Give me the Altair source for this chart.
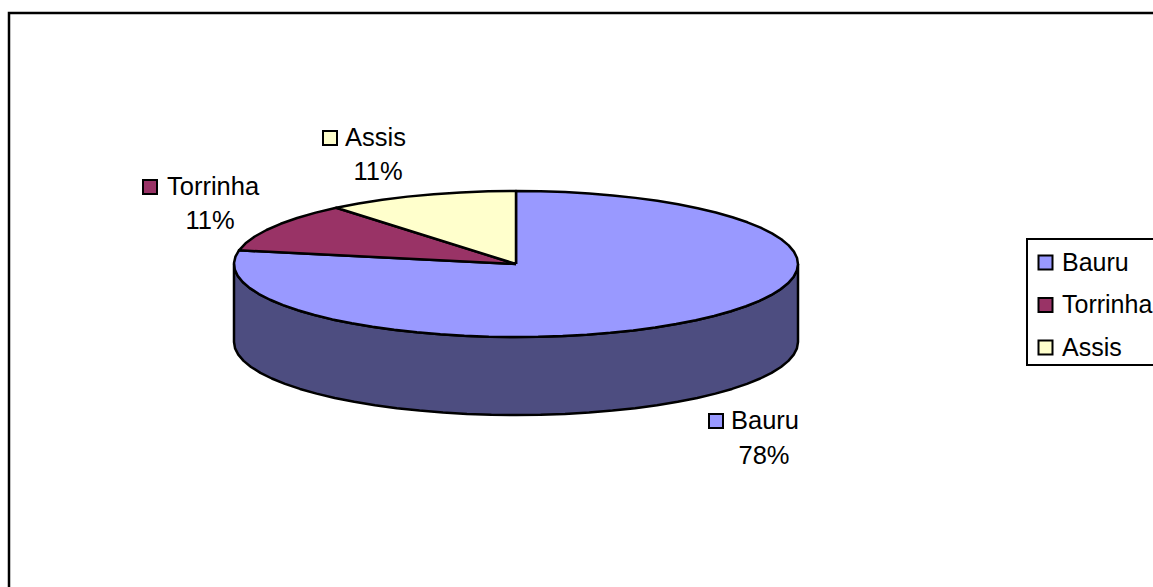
import math

import altair as alt
import pandas as pd

# Shares of each municipality, in percent
cities = ["Bauru", "Torrinha", "Assis"]
shares = [78, 11, 11]
colors = ["#9999FF", "#993366", "#FFFFCC"]

# Key square and label anchors for each slice
key_x = [716, 150, 330]
key_y = [421, 187, 138]
name_x = [731, 167, 345]
pct_x = [764, 210, 378]
pct_y = [456, 221, 172]

# Tilted pie geometry
W, H = 1153, 587
CX, CY, RX, RY, DEPTH = 516, 264, 282, 73, 78
STEP = 5
WALL = "#4D4D80"
FONT = "Liberation Sans"
FONT_SIZE = 25.5


def rim(deg):
    a = math.radians(deg)
    return CX + RX * math.sin(a), CY - RY * math.cos(a)


def sweep(start, end):
    n = max(2, int(abs(end - start) / STEP) + 1)
    return [start + (end - start) * i / (n - 1) for i in range(n)]


# Slice outlines: centre, arc around the rim, back to the centre
slice_rows = []
start = 0.0
for city, share in zip(cities, shares):
    end = start + share * 3.6
    pts = [(CX, CY)] + [rim(d) for d in sweep(start, end)] + [(CX, CY)]
    for i, (x, y) in enumerate(pts):
        slice_rows.append({"city": city, "i": i, "x": x, "y": y})
    start = end

# Visible wall: front half of the rim, dropped by the depth on the way back
front = [rim(d) for d in sweep(90, 270)]
wall_pts = front + [(x, y + DEPTH) for x, y in reversed(front)] + front[:1]
wall_rows = [{"i": i, "x": x, "y": y} for i, (x, y) in enumerate(wall_pts)]

labels = pd.DataFrame(
    {
        "city": cities,
        "pct": [f"{s}%" for s in shares],
        "key_x": key_x,
        "key_y": key_y,
        "name_x": name_x,
        "pct_x": pct_x,
        "pct_y": pct_y,
    }
)

x_scale = alt.Scale(domain=[0, W], range=[0, W])
y_scale = alt.Scale(domain=[0, H], range=[0, H])
fill_scale = alt.Scale(domain=cities, range=colors)
X = lambda f: alt.X(f, type="quantitative", scale=x_scale, axis=None)
Y = lambda f: alt.Y(f, type="quantitative", scale=y_scale, axis=None)

city_legend = alt.Legend(
    title=None,
    orient="none",
    legendX=1033,
    legendY=250,
    symbolType="square",
    symbolSize=196,
    symbolStrokeColor="black",
    symbolStrokeWidth=2,
    symbolOpacity=1,
    labelFont=FONT,
    labelFontSize=25,
    labelColor="black",
    labelOffset=4,
    labelLimit=200,
    rowPadding=16.5,
    padding=0,
    values=cities,
)

frame = (
    alt.Chart(pd.DataFrame({"x": [9, 9, W + 10], "y": [H + 10, 13, 13], "i": [0, 1, 2]}))
    .mark_line(color="black", strokeWidth=2.5, clip=True)
    .encode(x=X("x"), y=Y("y"), order="i:Q")
)

# Legend frame runs past the right edge of the page
legend_box = (
    alt.Chart(pd.DataFrame({"x": [1027], "x2": [W + 10], "y": [239], "y2": [365]}))
    .mark_rect(fill="white", stroke="black", strokeWidth=2, clip=True)
    .encode(x=X("x"), x2="x2:Q", y=Y("y"), y2="y2:Q")
)

wall = (
    alt.Chart(pd.DataFrame(wall_rows))
    .mark_line(fill=WALL, stroke="black", strokeWidth=2.5, strokeJoin="round")
    .encode(x=X("x"), y=Y("y"), order="i:Q")
)

slices = (
    alt.Chart(pd.DataFrame(slice_rows))
    .mark_line(filled=True, stroke="black", strokeWidth=2.5, strokeJoin="round")
    .encode(
        x=X("x"),
        y=Y("y"),
        order="i:Q",
        detail="city:N",
        fill=alt.Fill("city:N", scale=fill_scale, legend=city_legend),
    )
)

keys = (
    alt.Chart(labels)
    .mark_square(size=196, stroke="black", strokeWidth=2, opacity=1, filled=True)
    .encode(
        x=X("key_x"),
        y=Y("key_y"),
        fill=alt.Fill("city:N", scale=fill_scale, legend=city_legend),
    )
)

names = (
    alt.Chart(labels)
    .mark_text(align="left", baseline="middle", font=FONT, fontSize=FONT_SIZE, color="black")
    .encode(x=X("name_x"), y=Y("key_y"), text="city:N")
)

pcts = (
    alt.Chart(labels)
    .mark_text(align="center", baseline="middle", font=FONT, fontSize=FONT_SIZE, color="black")
    .encode(x=X("pct_x"), y=Y("pct_y"), text="pct:N")
)

chart = (
    alt.layer(frame, legend_box, wall, slices, keys, names, pcts)
    .resolve_scale(fill="shared")
    .properties(width=W, height=H, background="white", padding=0, autosize=alt.AutoSizeParams(type="none"))
    .configure_view(stroke=None)
)

chart.save("out.html", embed_options={"renderer": "svg", "actions": False})
